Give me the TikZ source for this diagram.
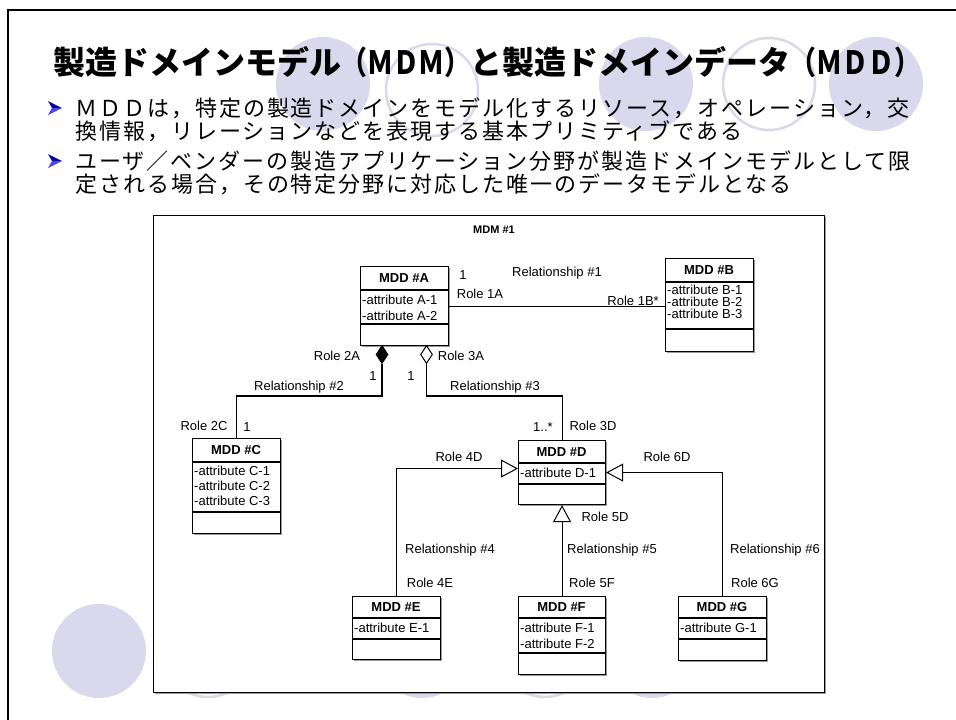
\documentclass[tikz,border=0pt]{standalone}
\usepackage{fontspec}
\setmainfont{Liberation Sans}
\newfontfamily\jpt{Noto Sans CJK JP}
\newfontfamily\jpl{Noto Sans CJK JP}[LetterSpace=9]
\usetikzlibrary{arrows.meta,shapes.geometric,shadows}
\definecolor{lav}{RGB}{218,216,236}
\definecolor{buldark}{RGB}{10,10,150}
\definecolor{bullight}{RGB}{70,70,235}
\begin{document}
\begin{tikzpicture}[x=1pt,y=-1pt,
  lbl/.style={inner sep=0pt, text height=9.3pt, text depth=0pt, font=\fontsize{13}{15}\selectfont},
  ttl/.style={lbl, font=\fontsize{13}{15}\selectfont\bfseries},
  attr/.style={lbl, anchor=west},
  cls/.style={draw, line width=1.1pt, fill=white, inner sep=0pt, anchor=north west,
     drop shadow={shadow xshift=1.2pt,shadow yshift=-1.2pt,fill=black!40,opacity=1}},
  sep/.style={line width=1.1pt},
  conn/.style={line width=1.1pt},
  gen/.style={conn, -{Triangle[open,length=17pt,width=18pt,line width=1pt]}},
  dia/.style={diamond, draw, line width=1pt, inner sep=0pt, minimum width=12pt, minimum height=18pt, anchor=north},
  fcirc/.style={fill=lav},
  ocirc/.style={draw=lav, line width=2.5pt},
  jline/.style={anchor=base west, inner sep=0pt, font={\fontsize{22}{24}\selectfont\jpl}}
]
\useasboundingbox (0,0) rectangle (956,720);
\fill[white] (0,0) rectangle (956,720);
% decorative circles
\fill[fcirc] (323,84) circle (47);
\draw[ocirc] (432,90) circle (46);
\fill[fcirc] (646,84) circle (47);
\draw[ocirc] (769,84) circle (46);
\fill[fcirc] (876,84) circle (47);
\fill[fcirc] (99,651) circle (47);
\draw[ocirc] (208,651) circle (46);
\fill[fcirc] (422,651) circle (47);
\draw[ocirc] (545,651) circle (46);
\fill[fcirc] (652,651) circle (47);
% frame
\draw[line width=2.6pt] (8,722) -- (8,10) -- (958,10);
% title
\node[anchor=base west, inner sep=0pt, font={\fontsize{32}{34}\selectfont\jpt\bfseries}] (title) at (53,74)
  {製造ドメインモデル\scalebox{0.81}[1]{（ＭＤＭ）}と製造ドメインデータ\scalebox{0.81}[1]{（ＭＤＤ）}};
% bullet arrowheads
\fill[buldark] (48,101) -- (62,108) -- (52,108) -- cycle;
\fill[bullight] (52,108) -- (62,108) -- (48,115) -- cycle;
\fill[buldark] (48,154) -- (62,161) -- (52,161) -- cycle;
\fill[bullight] (52,161) -- (62,161) -- (48,168) -- cycle;
% bullet text
\node[jline] (t1) at (75,116.4) {ＭＤＤは，特定の製造ドメインをモデル化するリソース，オペレーション，交};
\node[jline] (t2) at (75,139.4) {換情報，リレーションなどを表現する基本プリミティブである};
\node[jline] (t3) at (75,169.4) {ユーザ／ベンダーの製造アプリケーション分野が製造ドメインモデルとして限};
\node[jline] (t4) at (75,192.4) {定される場合，その特定分野に対応した唯一のデータモデルとなる};
% diagram frame
\node[draw, line width=1.1pt, fill=white, inner sep=0pt, anchor=north west, minimum width=671pt, minimum height=477pt,
  drop shadow={shadow xshift=1.2pt,shadow yshift=-1.2pt,fill=black!40,opacity=1}] (mdm) at (153,215) {};
\node[inner sep=0pt, text height=8pt, text depth=0pt, font=\fontsize{11}{13}\selectfont\bfseries] (mdmt) at (494,229) {MDM \#1};
% class A
\node[cls, minimum width=88pt, minimum height=79pt] (A) at (360,266) {};
\draw[sep] ([yshift=-24pt]A.north west) -- ([yshift=-24pt]A.north east);
\draw[sep] ([yshift=-58pt]A.north west) -- ([yshift=-58pt]A.north east);
\node[ttl] (At) at (404,278) {MDD \#A};
\node[attr] (Aa1) at (362,300) {-attribute A-1};
\node[attr] (Aa2) at (362,316) {-attribute A-2};
% class B
\node[cls, minimum width=88pt, minimum height=93pt] (B) at (665,258) {};
\draw[sep] ([yshift=-24pt]B.north west) -- ([yshift=-24pt]B.north east);
\draw[sep] ([yshift=-71pt]B.north west) -- ([yshift=-71pt]B.north east);
\node[ttl] (Bt) at (709,270) {MDD \#B};
\node[attr] (Ba1) at (667,290) {-attribute B-1};
\node[attr] (Ba2) at (667,302) {-attribute B-2};
\node[attr] (Ba3) at (667,314) {-attribute B-3};
% class C
\node[cls, minimum width=88pt, minimum height=95pt] (C) at (192,438) {};
\draw[sep] ([yshift=-24pt]C.north west) -- ([yshift=-24pt]C.north east);
\draw[sep] ([yshift=-74pt]C.north west) -- ([yshift=-74pt]C.north east);
\node[ttl] (Ct) at (236,450) {MDD \#C};
\node[attr] (Ca1) at (194,471) {-attribute C-1};
\node[attr] (Ca2) at (194,486) {-attribute C-2};
\node[attr] (Ca3) at (194,501) {-attribute C-3};
% class D
\node[cls, minimum width=87pt, minimum height=64pt] (D) at (518,440) {};
\draw[sep] ([yshift=-23pt]D.north west) -- ([yshift=-23pt]D.north east);
\draw[sep] ([yshift=-44pt]D.north west) -- ([yshift=-44pt]D.north east);
\node[ttl] (Dt) at (561.5,452) {MDD \#D};
\node[attr] (Da1) at (520,473) {-attribute D-1};
% class E
\node[cls, minimum width=88pt, minimum height=63pt] (E) at (352,596) {};
\draw[sep] ([yshift=-22pt]E.north west) -- ([yshift=-22pt]E.north east);
\draw[sep] ([yshift=-43pt]E.north west) -- ([yshift=-43pt]E.north east);
\node[ttl] (Et) at (396,607) {MDD \#E};
\node[attr] (Ea1) at (354,628) {-attribute E-1};
% class F
\node[cls, minimum width=87pt, minimum height=78pt] (F) at (518,596) {};
\draw[sep] ([yshift=-22pt]F.north west) -- ([yshift=-22pt]F.north east);
\draw[sep] ([yshift=-57pt]F.north west) -- ([yshift=-57pt]F.north east);
\node[ttl] (Ft) at (561.5,607) {MDD \#F};
\node[attr] (Fa1) at (520,628) {-attribute F-1};
\node[attr] (Fa2) at (520,644) {-attribute F-2};
% class G
\node[cls, minimum width=88pt, minimum height=64pt] (G) at (678,596) {};
\draw[sep] ([yshift=-22pt]G.north west) -- ([yshift=-22pt]G.north east);
\draw[sep] ([yshift=-43pt]G.north west) -- ([yshift=-43pt]G.north east);
\node[ttl] (Gt) at (722,607) {MDD \#G};
\node[attr] (Ga1) at (680,628) {-attribute G-1};
% diamonds
\node[dia, fill=black] (d2) at (382,345) {};
\node[dia, fill=white] (d3) at (426.5,345) {};
% connectors
\draw[conn] (A.east) -- (A.east -| B.west);
\draw[conn] (d2.south) -- ++(0,32) -| (C.north);
\draw[conn] (d3.south) -- ++(0,32) -| (D.north);
\draw[gen] (E.north) |- ([yshift=4pt]D.west);
\draw[gen] (F.north) -- (D.south);
\draw[gen] (G.north) |- (D.east);
% labels
\node[lbl] (m1) at (463,275) {1};
\node[lbl] (r1) at (557,272) {Relationship \#1};
\node[lbl] (ro1a) at (480,294) {Role 1A};
\node[lbl, anchor=east] (ro1b) at (659,301) {Role 1B*};
\node[lbl] (ro2a) at (337,356) {Role 2A};
\node[lbl] (ro3a) at (461,356) {Role 3A};
\node[lbl] (m2) at (373,376) {1};
\node[lbl] (m3) at (411,376) {1};
\node[lbl] (r2) at (299,386) {Relationship \#2};
\node[lbl] (r3) at (495,386) {Relationship \#3};
\node[lbl] (ro2c) at (204,426) {Role 2C};
\node[lbl] (m4) at (247,427) {1};
\node[lbl] (m5) at (543,427) {1..*};
\node[lbl] (ro3d) at (593,426) {Role 3D};
\node[lbl] (ro4d) at (459,457) {Role 4D};
\node[lbl] (ro6d) at (667,457) {Role 6D};
\node[lbl] (ro5d) at (605,517) {Role 5D};
\node[lbl] (r4) at (450,549) {Relationship \#4};
\node[lbl] (r5) at (612,549) {Relationship \#5};
\node[lbl] (r6) at (775,549) {Relationship \#6};
\node[lbl] (ro4e) at (430,583) {Role 4E};
\node[lbl] (ro5f) at (592,583) {Role 5F};
\node[lbl] (ro6g) at (755,583) {Role 6G};
\end{tikzpicture}
\end{document}
